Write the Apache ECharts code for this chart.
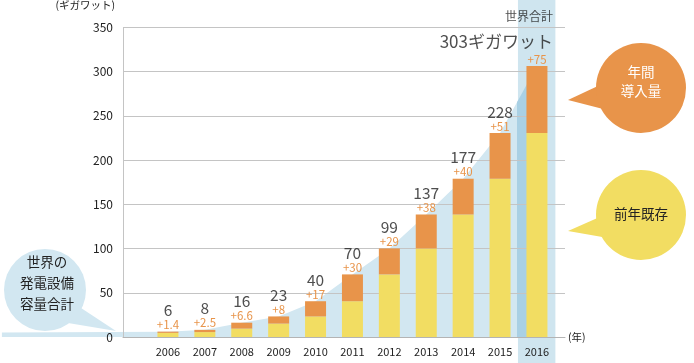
<!DOCTYPE html>
<html><head><meta charset="utf-8">
<script src="https://cdn.jsdelivr.net/npm/echarts@6/dist/echarts.min.js"></script>
<style>html,body{margin:0;padding:0;background:#fff}#c{width:694px;height:363px}</style>
</head><body><div id="c"></div>
<script>
// ---- data ----
const years = ['2006','2007','2008','2009','2010','2011','2012','2013','2014','2015','2016'];
const existing = [4.6, 5.5, 9.4, 15, 23, 40, 70, 99, 137, 177, 228];
const added = [1.4, 2.5, 6.6, 8, 17, 30, 29, 38, 40, 51, 75];
const totals = [6, 8, 16, 23, 40, 70, 99, 137, 177, 228, 303];
const addedLabels = ['+1.4','+2.5','+6.6','+8','+17','+30','+29','+38','+40','+51','+75'];
const areaLeadValue = 5;
const highlightYear = '2016';
const yMin = 0, yMax = 350, yInterval = 50;

// ---- layout / style ----
const FONT = '"Noto Sans CJK JP","Noto Sans",sans-serif';
const W = 694;
const TOP = 24, BOTTOM = 26;
const AXIS_LEFT = 123, AXIS_RIGHT = 129;
const BAND = 36.9, BAR_LEFT = 149.5;
const BAR_RIGHT = W - (BAR_LEFT + years.length * BAND);
const LEAD_BANDS = 4;
const HI_W = 38;
const C_YEL = '#f2dd62', C_ORG = '#e8944a', C_BLUE = '#d2e7f1', C_BLUE_D = '#a9d0e4', C_BAND = '#cfe5ef';
const firstYear = +years[0];
const xMinArea = firstYear - 0.5 - LEAD_BANDS, xMaxArea = +years[years.length-1] + 0.5;
const hiIdx = years.indexOf(highlightYear);
const hiCenterPx = BAR_LEFT + (hiIdx + 0.5) * BAND;
const hiHalf = HI_W / 2 / BAND;

const areaData = [[xMinArea, areaLeadValue]].concat(years.map((y, i) => [+y, totals[i]]));

const chart = echarts.init(document.getElementById('c'));

const option = {
  animation: false,
  textStyle: { fontFamily: FONT },
  grid: [
    { left: BAR_LEFT, right: BAR_RIGHT, top: TOP, bottom: BOTTOM },              // bars
    { left: AXIS_LEFT, right: AXIS_RIGHT, top: TOP, bottom: BOTTOM },            // frame
    { left: BAR_LEFT - LEAD_BANDS * BAND, right: BAR_RIGHT, top: TOP, bottom: BOTTOM }, // area
    { left: BAR_LEFT, right: BAR_RIGHT, top: 0, bottom: 0 },                      // highlight band
    { left: hiCenterPx - HI_W / 2, right: W - (hiCenterPx + HI_W / 2), top: TOP, bottom: BOTTOM } // area inside band
  ],
  xAxis: [
    { gridIndex: 0, type: 'category', data: years, z: 4,
      axisLine: { show: false }, axisTick: { show: false },
      axisLabel: { margin: 9, fontSize: 11, color: '#222', fontFamily: FONT } },
    { gridIndex: 1, type: 'value', min: 0, max: 1, z: 1,
      axisLine: { show: true, lineStyle: { color: '#b4b4b4', width: 1 } },
      axisTick: { show: false }, axisLabel: { show: false }, splitLine: { show: false },
      name: '(年)', nameLocation: 'end', nameGap: 3,
      nameTextStyle: { fontSize: 10.5, color: '#222', align: 'left', verticalAlign: 'middle', padding: [28, 0, 0, 0], fontFamily: FONT } },
    { gridIndex: 2, type: 'value', min: xMinArea, max: xMaxArea, show: false },
    { gridIndex: 3, type: 'category', data: years, show: false },
    { gridIndex: 4, type: 'value', min: +highlightYear - hiHalf, max: +highlightYear + hiHalf, show: false }
  ],
  yAxis: [
    { gridIndex: 0, type: 'value', min: yMin, max: yMax, show: false },
    { gridIndex: 1, type: 'value', min: yMin, max: yMax, interval: yInterval, z: 1,
      axisLine: { show: true, lineStyle: { color: '#c4c4c4' } },
      axisTick: { show: false },
      axisLabel: { margin: 10, fontSize: 12, color: '#222', fontFamily: FONT },
      splitLine: { show: true, lineStyle: { color: '#c4c4c4', width: 1 } },
      name: '(ギガワット)', nameLocation: 'end', nameGap: 17,
      nameTextStyle: { fontSize: 10.5, color: '#222', align: 'right', padding: [0, 8, 0, 0], fontFamily: FONT } },
    { gridIndex: 2, type: 'value', min: yMin, max: yMax, show: false },
    { gridIndex: 3, type: 'value', min: 0, max: 1, show: false },
    { gridIndex: 4, type: 'value', min: yMin, max: yMax, show: false }
  ],
  series: [
    { type: 'bar', xAxisIndex: 3, yAxisIndex: 3, z: 0, silent: true, barWidth: HI_W,
      itemStyle: { color: C_BAND },
      data: years.map(y => y === highlightYear ? 1 : '-') },
    { type: 'line', xAxisIndex: 2, yAxisIndex: 2, z: 0.5, silent: true, symbol: 'none',
      lineStyle: { width: 0 }, areaStyle: { opacity: 1, color: C_BLUE },
      data: areaData },
    { type: 'line', xAxisIndex: 4, yAxisIndex: 4, z: 0.6, silent: true, symbol: 'none', clip: true,
      lineStyle: { width: 0 }, areaStyle: { opacity: 1, color: C_BLUE_D },
      data: areaData },
    { type: 'bar', xAxisIndex: 0, yAxisIndex: 0, stack: 's', barWidth: 21, z: 5,
      itemStyle: { color: C_YEL }, data: existing },
    { type: 'bar', xAxisIndex: 0, yAxisIndex: 0, stack: 's', barWidth: 21, z: 5,
      itemStyle: { color: C_ORG }, data: added,
      label: { show: true, position: 'top', distance: 1, fontSize: 11.5, color: C_ORG, fontFamily: FONT,
        formatter: p => addedLabels[p.dataIndex] } },
    { type: 'scatter', xAxisIndex: 0, yAxisIndex: 0, z: 6, silent: true, symbolSize: 1,
      itemStyle: { color: 'rgba(0,0,0,0)' },
      label: { show: true, position: 'top', distance: 13, fontSize: 15.5, color: '#222', fontFamily: FONT },
      data: totals.map((v, i) => i === hiIdx ? {
        value: v,
        label: {
          formatter: '{a|世界合計}\n{b|' + v + 'ギガワット}',
          align: 'right', offset: [16, 0], distance: 14,
          rich: {
            a: { fontSize: 12, lineHeight: 30, color: '#222', fontFamily: FONT },
            b: { fontSize: 17, lineHeight: 20, color: '#222', fontFamily: FONT }
          }
        }
      } : v)
    }
  ],
  graphic: [
    { type: 'polygon', z: 10, shape: { points: [[600, 85], [568, 100], [607, 110]] }, style: { fill: C_ORG } },
    { type: 'circle', z: 10, shape: { cx: 641, cy: 88, r: 45 }, style: { fill: C_ORG } },
    { type: 'text', z: 11, x: 641, y: 81.5, style: { text: '年間\n導入量', fill: '#fff', font: '13.5px ' + FONT, lineHeight: 19, align: 'center', verticalAlign: 'middle' } },
    { type: 'polygon', z: 10, shape: { points: [[602, 216], [568, 231], [608, 238]] }, style: { fill: C_YEL } },
    { type: 'circle', z: 10, shape: { cx: 641, cy: 215, r: 45 }, style: { fill: C_YEL } },
    { type: 'text', z: 11, x: 641, y: 214, style: { text: '前年既存', fill: '#222', font: '13.5px ' + FONT, align: 'center', verticalAlign: 'middle' } },
    { type: 'polygon', z: 10, shape: { points: [[78, 306], [116, 331], [68, 323]] }, style: { fill: C_BLUE } },
    { type: 'circle', z: 10, shape: { cx: 45, cy: 290, r: 41 }, style: { fill: C_BLUE } },
    { type: 'text', z: 11, x: 47, y: 283, style: { text: '世界の\n発電設備\n容量合計', fill: '#222', font: '13.5px ' + FONT, lineHeight: 21, align: 'center', verticalAlign: 'middle' } }
  ]
};
chart.setOption(option);
</script>
</body></html>
